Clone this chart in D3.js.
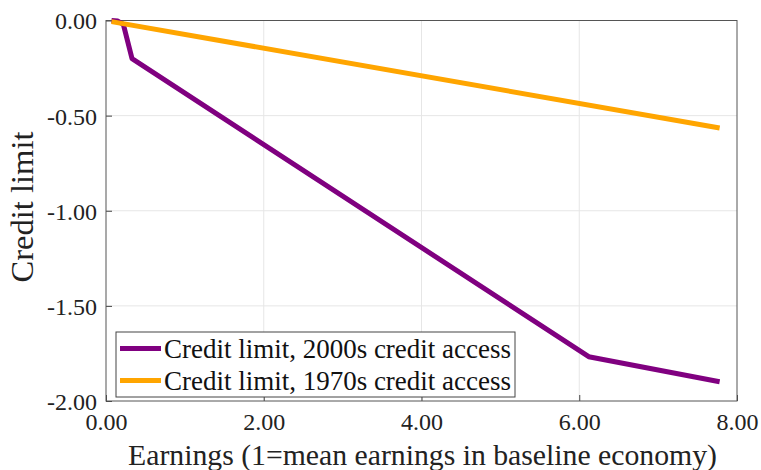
<!DOCTYPE html>
<html><head><meta charset="utf-8">
<script src="https://cdn.jsdelivr.net/npm/d3@7"></script>
<style>
body{margin:0;background:#fff}
svg, svg text { font-family: "Liberation Serif" !important; }
</style>
</head><body>
<svg id="c" width="761" height="470" font-family="Liberation Serif"></svg>
<script>
const xTicks = [0, 2, 4, 6, 8];
const yTicks = [0, -0.5, -1, -1.5, -2];
const seriesNames = ["Credit limit, 2000s credit access", "Credit limit, 1970s credit access"];
const earnings2000s = [0.07, 0.15, 0.22, 0.33, 6.12, 7.78];
const limit2000s = [0.0, -0.003, -0.02, -0.2, -1.767, -1.899];
const earnings1970s = [0.07, 7.78];
const limit1970s = [-0.006, -0.565];
const colors = ["#800080", "#FFA500"];

const svg = d3.select("#c");
const L = 106, R = 737, T = 20.5, B = 401;
const x = d3.scaleLinear().domain([0, 8]).range([L, R]);
const y = d3.scaleLinear().domain([-2, 0]).range([B, T]);
const fmt = d => d3.format(".2f")(d).replace("\u2212", "-");

// fit text width to a target by adjusting font size
function fit(sel, target) {
  sel.attr("font-size", 20);
  const w = sel.node().getComputedTextLength();
  sel.attr("font-size", +(20 * target / w).toFixed(2));
}

// grid
svg.append("g").selectAll("line").data(xTicks.slice(1, -1)).join("line")
  .attr("x1", d => x(d)).attr("x2", d => x(d)).attr("y1", T).attr("y2", B)
  .attr("stroke", "#e6e6e6").attr("stroke-width", 1);
svg.append("g").selectAll("line").data(yTicks.slice(1, -1)).join("line")
  .attr("y1", d => y(d)).attr("y2", d => y(d)).attr("x1", L).attr("x2", R)
  .attr("stroke", "#e6e6e6").attr("stroke-width", 1);

// axes
const xa = svg.append("g").attr("transform", `translate(0,${B})`)
  .call(d3.axisBottom(x).tickValues(xTicks).tickFormat(fmt).tickSizeInner(-6).tickSizeOuter(0));
const ya = svg.append("g").attr("transform", `translate(${L},0)`)
  .call(d3.axisLeft(y).tickValues(yTicks).tickFormat(fmt).tickSizeInner(-6).tickSizeOuter(0));
[xa, ya].forEach(a => {
  a.attr("font-family", "Liberation Serif").attr("font-size", 20);
  a.select(".domain").remove();
  a.selectAll("line").attr("stroke", "#444");
  a.selectAll("text").attr("font-family", "Liberation Serif").attr("fill", "#222");
});
const t0 = xa.select(".tick text");
fit(t0, 42);
const tsz = t0.attr("font-size");
xa.selectAll("text").attr("font-size", tsz).attr("dy", "0").attr("y", 29);
ya.selectAll("text").attr("font-size", tsz).attr("x", -9).attr("dy", "0.35em");
ya.selectAll(".tick line").attr("x2", 6);

// box
svg.append("rect").attr("x", L).attr("y", T).attr("width", R - L).attr("height", B - T)
  .attr("fill", "none").attr("stroke", "#555").attr("stroke-width", 1);

// lines
const line = d3.line().x(d => x(d[0])).y(d => y(d[1]));
const data = [d3.zip(earnings2000s, limit2000s), d3.zip(earnings1970s, limit1970s)];
data.forEach((d, i) => {
  svg.append("path").datum(d).attr("d", line).attr("fill", "none")
    .attr("stroke", colors[i]).attr("stroke-width", 5).attr("stroke-linejoin", "round");
});

// legend
const lg = svg.append("g");
lg.append("rect").attr("x", 116).attr("y", 332).attr("width", 399).attr("height", 65)
  .attr("fill", "#fff").attr("stroke", "#444").attr("stroke-width", 1);
seriesNames.forEach((n, i) => {
  const yy = 348.5 + i * 32;
  lg.append("line").attr("x1", 120).attr("x2", 161).attr("y1", yy).attr("y2", yy)
    .attr("stroke", colors[i]).attr("stroke-width", 5);
  const t = lg.append("text").attr("x", 164).attr("y", yy).attr("dy", "0.35em")
    .attr("font-family", "Liberation Serif").attr("fill", "#111").text(n);
  fit(t, 347);
});

// axis labels
const xl = svg.append("text").attr("x", 422.5).attr("y", 465).attr("text-anchor", "middle")
  .attr("font-family", "Liberation Serif").attr("fill", "#222")
  .text("Earnings (1=mean earnings in baseline economy)");
fit(xl, 589);
const yl = svg.append("text").attr("transform", `translate(33,207) rotate(-90)`)
  .attr("text-anchor", "middle").attr("font-family", "Liberation Serif").attr("fill", "#222")
  .text("Credit limit");
fit(yl, 151);
</script>
</body></html>
